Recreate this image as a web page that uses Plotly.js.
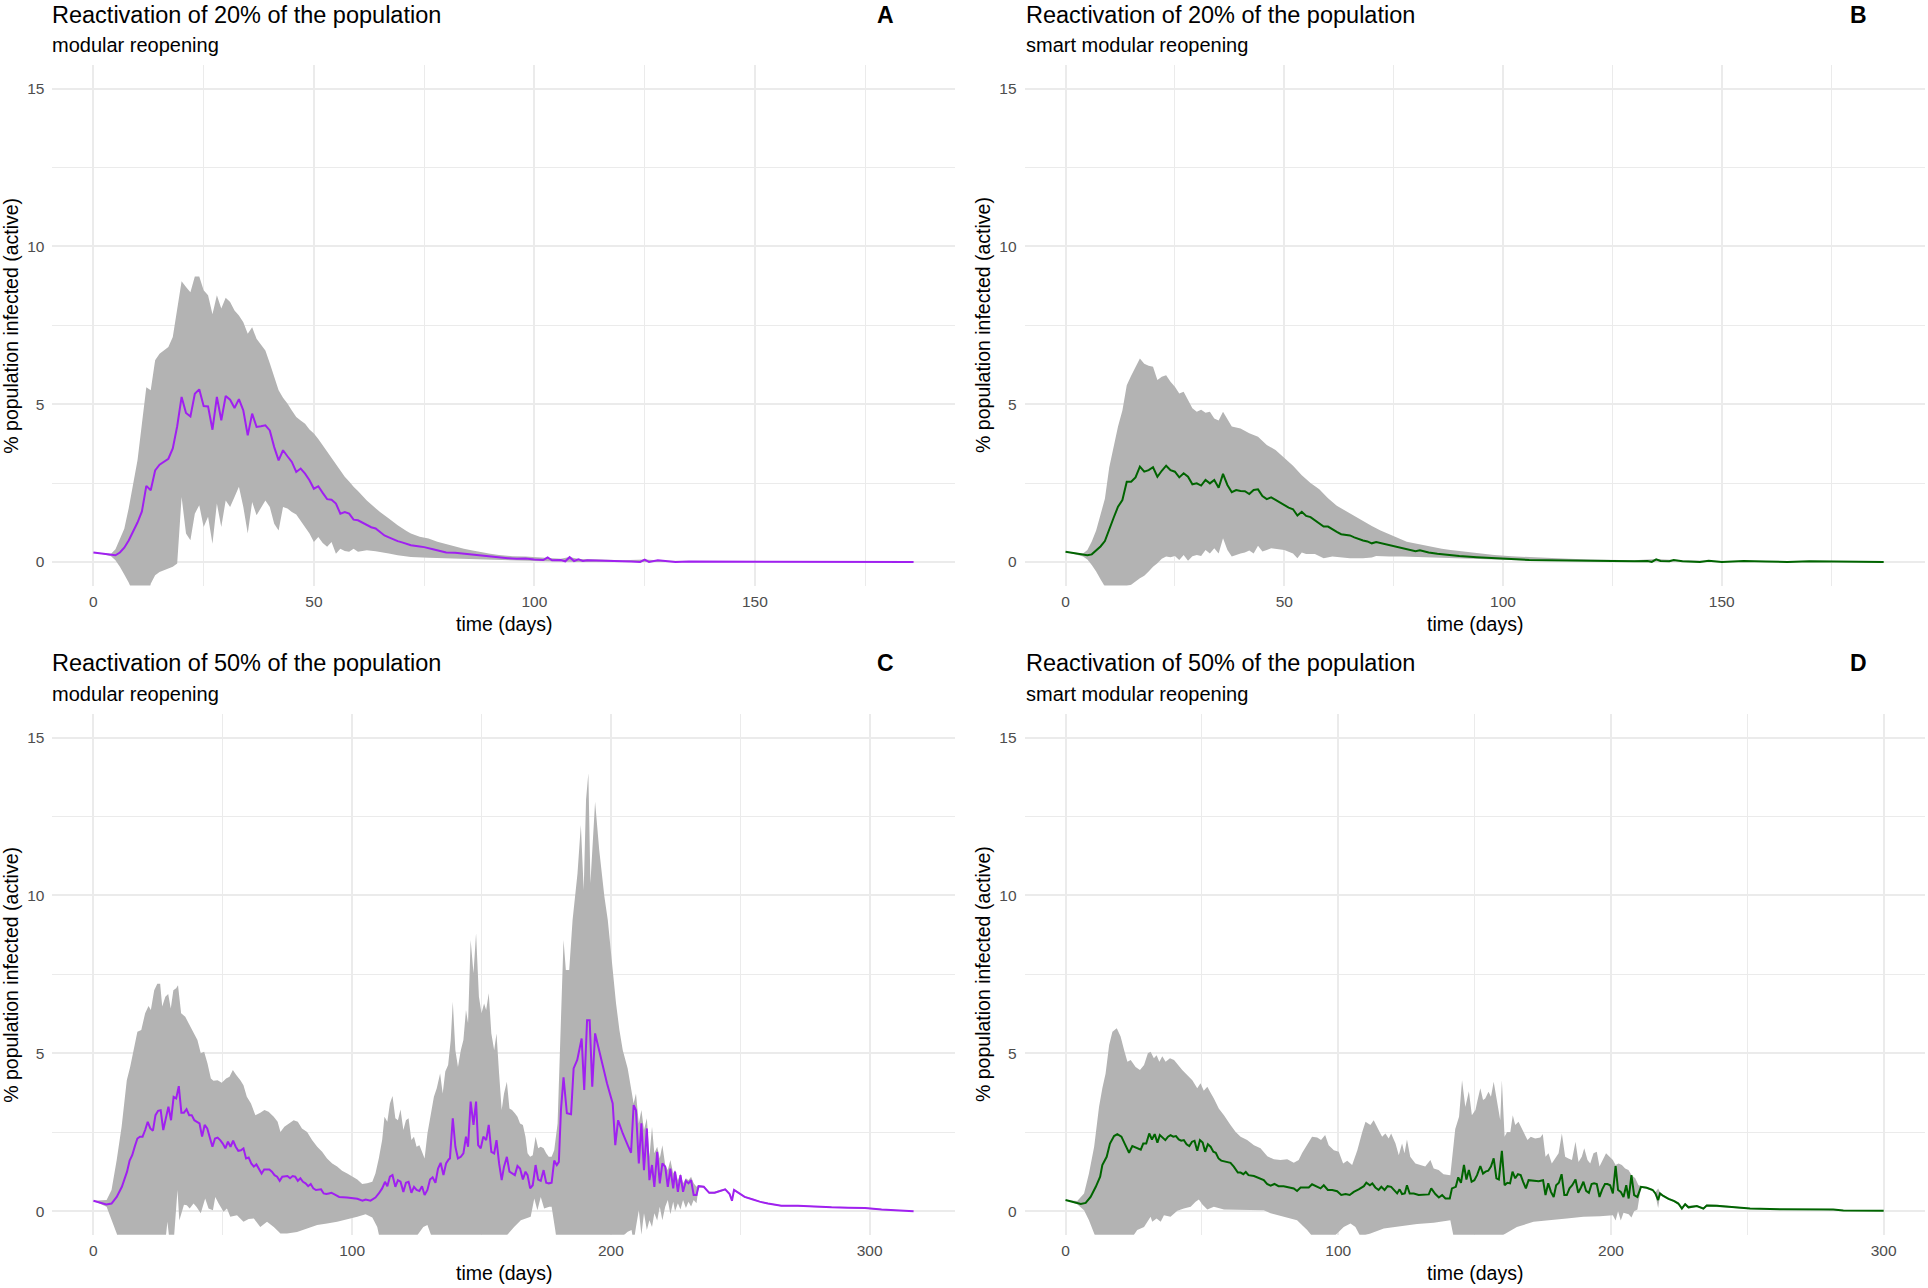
<!DOCTYPE html>
<html>
<head>
<meta charset="utf-8">
<script src="https://cdn.plot.ly/plotly-3.0.1.min.js"></script>
<style>html,body{margin:0;padding:0;background:#fff;}#chart{width:1928px;height:1288px;}</style>
</head>
<body>
<div id="chart"></div>
<script>
// ---------- Panel A: 20% modular reopening ----------
const aDay  = [0,2,4,5,6,7,8,9,10,11,12,13,14,15,16,17,18,19,20,21,22,23,24,25,26,27,28,29,30,31,32,33,34,35,36,37,38,39,40,41,42,43,44,45,46,47,48,49,50,51,52,53,54,55,56,57,58,59,60,61,62,63,64,65,66,67,68,69,70,72,74,75,77,79,80,82,84,86,88,90,92,94,96,98,100,102,103,104,106,107,108,109,110,111,112,115,118,120,122,124,125,126,128,130,132,135,140,145,150,160,170,186];
const aMean = [0.30,0.26,0.22,0.21,0.30,0.45,0.68,0.95,1.25,1.60,2.41,2.27,2.90,3.08,3.18,3.27,3.60,4.30,5.23,4.72,4.61,5.33,5.47,4.94,4.93,4.19,5.23,4.49,5.26,5.14,4.88,5.16,4.80,4.01,4.70,4.28,4.30,4.33,4.17,3.64,3.22,3.54,3.35,3.17,2.85,2.96,2.80,2.59,2.32,2.40,2.19,1.99,1.97,1.85,1.53,1.58,1.53,1.34,1.32,1.24,1.16,1.10,1.06,0.95,0.84,0.78,0.71,0.66,0.62,0.53,0.49,0.47,0.40,0.33,0.30,0.29,0.26,0.22,0.19,0.16,0.13,0.12,0.10,0.11,0.08,0.06,0.14,0.05,0.06,0.02,0.15,0.03,0.08,0.03,0.05,0.04,0.05,0.02,0.01,0.00,0.07,0.00,0.05,0.03,0.00,0.01,0.01,0.00,0.00,0.00,0.00,0.00];
const aUpDay = [0,2,4,5,6,7,8,9,10,11,12,13,14,15,16,17,18,19,20,21,22,23,24,25,26,27,28,29,30,31,32,33,34,35,36,37,38,39,40,41,42,43,44,45,46,47,48,49,50,51,52,53,54,55,56,57,58,59,60,62,64,65,67,69,71,72,74,76,78,80,82,84,86,88,90,92,95,98,100,103,106,108,110,115,120,125,130,140,150,186];
const aUp = [0.30,0.28,0.26,0.40,0.70,1.05,1.70,2.40,3.22,4.38,5.54,5.44,6.39,6.60,6.70,6.81,7.13,8.08,8.90,8.71,8.55,9.05,9.05,8.61,8.45,7.85,8.45,8.03,8.37,8.24,7.97,7.81,7.60,7.23,7.44,7.07,6.90,6.70,6.30,5.85,5.44,5.20,5.02,4.80,4.59,4.48,4.38,4.20,4.07,3.90,3.70,3.54,3.30,3.10,2.90,2.70,2.55,2.38,2.25,1.95,1.70,1.58,1.38,1.16,0.98,0.90,0.80,0.74,0.64,0.56,0.49,0.42,0.36,0.30,0.26,0.22,0.18,0.17,0.15,0.14,0.10,0.16,0.09,0.08,0.05,0.08,0.04,0.02,0.01,0.00];
const aLoDay = [0,2,4,5,6,7,8,9,10,11,12,13,14,15,16,17,18,19,20,21,22,23,24,25,26,27,28,29,30,31,32,33,34,35,36,37,38,39,40,41,42,43,44,45,46,47,48,49,50,51,52,53,54,55,56,57,58,59,60,62,64,65,67,69,72,76,80,87,95,100,110,120,186];
const aLo = [0.30,0.25,0.18,0.05,-0.15,-0.40,-0.65,-0.95,-1.30,-1.50,-1.40,-0.69,-0.42,-0.32,-0.25,-0.21,-0.15,-0.05,2.06,0.90,0.69,1.53,1.80,1.11,1.43,0.58,1.85,1.11,1.95,1.74,2.06,2.38,1.74,0.90,1.90,1.48,1.70,1.95,1.74,1.21,1.00,1.74,1.69,1.58,1.50,1.30,1.11,0.90,0.63,0.79,0.60,0.48,0.63,0.26,0.42,0.35,0.32,0.42,0.32,0.37,0.34,0.32,0.27,0.21,0.16,0.13,0.11,0.07,0.05,0.03,0.00,0.00,0.00];

// ---------- Panel B: 20% smart modular reopening ----------
const bDay = [0,2,4,5,6,7,8,9,10,11,12,13,14,15,16,17,18,19,20,21,22,23,24,25,26,27,28,29,30,31,32,33,34,35,36,37,38,39,40,41,42,43,44,45,46,47,48,49,50,51,52,53,54,55,56,57,58,59,60,61,62,63,64,65,66,67,68,69,70,71,72,73,74,75,76,78,80,81,83,85,87,90,94,98,102,106,110,115,120,125,130,133,134,135,136,138,139,141,145,147,150,155,160,165,170,175,180,187];
const bMean = [0.32,0.27,0.22,0.21,0.24,0.35,0.49,0.66,1.00,1.40,1.75,1.96,2.54,2.54,2.68,3.02,2.86,2.91,3.00,2.70,2.89,3.05,2.91,2.86,2.68,2.81,2.70,2.46,2.49,2.42,2.60,2.49,2.60,2.35,2.79,2.44,2.21,2.28,2.25,2.24,2.15,2.28,2.30,2.09,1.99,2.05,1.97,1.88,1.80,1.72,1.67,1.47,1.59,1.46,1.42,1.31,1.22,1.12,1.12,1.03,0.95,0.88,0.86,0.84,0.78,0.72,0.68,0.65,0.59,0.63,0.60,0.56,0.52,0.49,0.46,0.40,0.34,0.37,0.30,0.26,0.23,0.19,0.15,0.12,0.08,0.06,0.05,0.05,0.04,0.03,0.02,0.03,0.00,0.08,0.03,0.02,0.06,0.02,0.00,0.04,0.00,0.03,0.01,0.00,0.02,0.01,0.00,0.00];
const bUpDay = [0,2,4,5,6,7,8,9,10,11,12,13,14,15,16,17,18,19,20,21,22,23,24,25,26,27,28,29,30,31,32,33,34,35,36,37,38,40,42,44,46,48,50,52,54,56,58,60,62,64,66,68,70,72,74,76,78,80,82,84,86,88,90,94,98,102,106,110,115,120,125,130,135,140,150,160,170,187];
const bUp = [0.32,0.30,0.27,0.38,0.65,1.00,1.50,2.00,3.00,3.70,4.29,4.80,5.60,5.90,6.20,6.45,6.28,6.22,6.19,5.77,5.87,5.92,5.71,5.55,5.34,5.39,5.13,4.87,4.76,4.82,4.73,4.76,4.55,4.48,4.76,4.50,4.29,4.23,4.08,3.97,3.71,3.55,3.30,3.05,2.75,2.50,2.30,2.02,1.78,1.62,1.46,1.28,1.14,1.00,0.87,0.76,0.64,0.58,0.53,0.47,0.42,0.38,0.35,0.27,0.22,0.18,0.15,0.12,0.10,0.08,0.06,0.05,0.09,0.05,0.03,0.02,0.02,0.00];
const bLoDay = [0,2,4,5,6,7,8,9,10,11,12,13,14,15,16,17,18,19,20,21,22,23,24,25,26,27,28,29,30,31,32,33,34,35,36,37,38,39,40,41,42,43,44,45,46,47,48,50,52,53,54,55,57,59,61,63,65,68,70,71,74,77,80,84,88,92,96,100,106,110,120,130,187];
const bLo = [0.32,0.25,0.17,0.08,-0.10,-0.30,-0.55,-0.78,-1.00,-1.20,-1.15,-0.95,-0.76,-0.72,-0.62,-0.52,-0.44,-0.30,-0.15,-0.04,0.10,0.17,0.15,0.19,0.06,0.22,0.04,0.18,0.22,0.19,0.38,0.27,0.43,0.27,0.75,0.38,0.17,0.22,0.27,0.30,0.36,0.27,0.51,0.33,0.38,0.43,0.40,0.38,0.27,0.12,0.30,0.25,0.25,0.12,0.17,0.14,0.12,0.12,0.14,0.19,0.17,0.17,0.16,0.15,0.13,0.11,0.09,0.07,0.04,0.03,0.02,0.01,0.00];

// ---------- Panel C: 50% modular reopening ----------
const cDay = [0,2,5,7,9,11,13,14,15,16,17,18,19,20,21,22,23,24,25,26,27,28,29,30,31,32,33,34,35,36,37,38,39,40,41,42,43,44,45,46,47,48,49,50,51,52,53,54,55,56,57,58,59,60,61,62,63,64,65,66,67,68,69,70,71,72,73,74,75,76,77,78,79,80,81,82,83,84,85,86,87,88,89,90,91,92,93,94,95,98,100,102,104,105.2,107.1,109,110.3,111.6,112.7,113.6,114.6,115.6,116.7,117.7,118.7,119.8,120.8,121.8,122.9,123.9,124.9,126,127,128,129.1,130.1,131.1,132.2,133.2,134.2,135.3,136.3,137.3,137.8,138.9,139.9,140.9,142,143,144,144.8,145.8,146.9,147.9,148.7,149.7,150.7,151.8,152.8,153.8,154.9,155.8,156.8,157.8,158.7,159.8,160.8,161.8,162.9,163.9,164.9,166,167,167.8,168.8,169.8,170.9,171.9,172.9,174,175,176,177.1,178.1,179.1,179.9,180.7,181.7,183,184.6,185.6,187,188.7,189.7,190.8,191.8,192.8,193.9,196.2,198.5,200.7,201.7,202.8,204.6,206.5,207.8,208.8,209.7,210.8,211.8,212.8,213.9,214.9,215.9,216.8,217.9,218.9,219.9,221,222,223,224.1,224.8,225.9,226.9,227.9,229,230,231,232,233.1,233.9,235.9,238,240.1,242.1,244.2,245.9,246.8,247.6,249.4,251.7,254.9,257.5,260.7,265.9,272.3,278.8,285.3,291.7,298.2,304.6,312.4,317];
const cMean = [0.33,0.28,0.21,0.24,0.45,0.77,1.25,1.60,1.77,2.05,2.30,2.36,2.36,2.57,2.83,2.62,2.55,3.04,3.18,3.20,2.57,2.94,3.31,2.88,3.62,3.57,3.96,3.12,3.12,3.23,3.04,3.04,2.88,2.83,2.78,2.36,2.73,2.62,2.36,2.04,2.30,2.33,2.25,2.14,1.99,2.20,2.04,2.23,2.04,1.91,1.93,1.99,1.67,1.70,1.51,1.41,1.48,1.32,1.19,1.32,1.32,1.32,1.25,1.14,1.09,0.96,1.09,1.09,1.11,1.04,1.11,1.09,0.96,1.04,0.93,0.88,0.79,0.86,0.72,0.67,0.69,0.69,0.56,0.54,0.56,0.58,0.54,0.50,0.45,0.43,0.40,0.39,0.33,0.37,0.33,0.43,0.56,0.72,0.93,0.79,1.09,1.14,0.77,0.98,0.93,0.61,0.90,0.93,0.58,0.77,0.67,0.64,0.79,0.51,0.67,1.00,1.07,0.90,1.35,1.53,1.14,1.51,1.64,1.67,2.94,2.04,1.67,1.72,1.83,2.36,2.04,3.47,2.73,3.47,2.09,1.99,2.36,2.25,2.73,1.88,1.83,2.25,1.51,0.98,1.41,1.72,1.25,1.19,1.14,1.43,1.35,1.00,1.25,1.14,0.72,0.82,1.46,1.00,0.96,1.30,0.90,0.88,0.90,1.60,1.46,1.56,3.20,4.24,3.10,3.07,4.52,4.79,5.47,3.84,6.05,6.05,3.94,5.63,4.79,4.05,3.41,2.09,2.88,2.46,2.09,1.85,3.36,3.20,1.51,2.78,1.30,2.62,0.98,1.46,0.77,1.88,0.88,1.51,1.41,0.77,1.35,0.72,1.25,0.61,1.14,0.61,0.96,0.88,0.98,0.51,0.51,0.79,0.77,0.58,0.58,0.64,0.69,0.54,0.33,0.67,0.58,0.45,0.37,0.30,0.24,0.17,0.17,0.14,0.12,0.11,0.10,0.05,0.03,0.00];
const cUpDay = [0,5.1,7,9,10.9,12.9,14.2,15.5,17,18.5,20,21.3,22.2,23.5,24.7,25.8,26.6,27.8,28.9,29.9,30.9,32,32.7,33.9,35.5,36.8,38.7,40.2,41.5,42.8,44.1,45.4,46.4,48,49.6,51.3,52.6,53.9,55.2,56.8,58,59.3,60.9,62.6,64.5,66.1,67.7,69.7,71.2,72.3,73.8,75.5,77.4,79,80.6,82.6,84.5,86.5,88.4,90.3,92.3,94.2,96.1,98.1,100,102,103.9,105.8,107.8,109,110.3,111.6,112.5,113.6,114.6,115.6,116.7,117.7,118.7,119.8,120.8,121.8,122.9,123.9,124.9,126,127,128,129.1,130.3,131.6,132.7,134,135,136,137.1,138.1,138.9,139.9,140.9,142,143,144,144.8,145.8,146.9,147.9,149,150,151,151.8,152.8,153.8,154.9,155.8,156.8,157.8,158.7,159.8,160.8,161.8,162.9,163.9,164.9,166,167,167.8,168.8,169.8,170.9,171.9,172.9,174,175,176,177.1,178.1,179.4,180.7,181.7,182.6,183.9,185.2,186.2,187.1,188.4,189.5,190.4,191.3,192.1,193,193.9,195.5,197.5,198.8,200.7,202,203.3,204.6,206.5,207.8,208.8,209.7,210.8,211.8,212.8,213.9,214.9,215.9,216.8,217.9,218.9,219.9,221,222,223,224.1,224.8,225.9,226.9,227.9,229,230,231,232,233.1,233.9,236,238,240,242,244.2,246,246.8,247.6,249.4,251.7,255,257.5,261,266,272,279,285,292,298,305,312,317];
const cUp = [0.33,0.35,0.67,1.62,2.67,4.15,4.57,5.10,5.68,5.74,6.27,6.50,6.37,7.00,7.20,7.20,6.48,6.79,6.88,6.42,7.00,7.06,7.16,6.27,6.16,5.95,5.63,5.42,5.00,5.05,4.68,4.20,4.13,4.15,4.07,4.20,4.26,4.47,4.31,4.15,3.99,3.62,3.41,3.04,3.12,3.20,3.15,2.99,2.83,2.51,2.67,2.78,2.88,2.83,2.62,2.51,2.25,2.04,1.88,1.67,1.51,1.41,1.28,1.19,1.11,1.00,0.86,0.88,0.93,1.19,1.67,2.25,2.99,2.83,3.41,3.65,2.94,2.88,3.22,2.57,2.88,2.94,2.25,2.36,2.04,2.09,1.88,1.67,2.46,3.04,3.62,3.89,4.36,3.73,4.42,4.63,5.42,6.63,5.10,4.57,5.10,5.42,6.37,5.95,8.59,7.54,8.80,6.79,6.27,6.58,6.37,6.90,5.63,5.10,5.63,4.36,3.20,3.73,4.10,3.25,3.20,3.10,2.99,2.78,2.73,2.36,1.83,1.72,1.77,2.36,1.99,2.04,1.99,1.83,1.72,1.72,1.93,2.78,6.27,8.59,7.64,7.64,9.22,9.96,10.70,12.23,10.17,13.03,13.87,10.39,11.76,12.97,11.44,9.96,9.22,7.64,6.58,5.74,5.10,4.52,3.94,3.41,3.73,2.78,3.20,2.57,2.94,1.72,2.67,1.83,2.04,1.67,2.09,1.46,1.30,1.62,1.19,1.30,0.98,1.19,0.88,1.04,0.98,1.09,0.88,0.77,0.82,0.80,0.61,0.61,0.67,0.72,0.57,0.36,0.70,0.61,0.48,0.39,0.32,0.26,0.19,0.19,0.16,0.14,0.13,0.12,0.07,0.04,0.01];
const cLoDay = [0,5.1,7,9,10,12,15,20,25,27.5,28.6,29.5,31,32.5,33.2,34.1,35,36.1,37.2,38.7,39.8,41.5,43.2,44.5,46.2,47.1,48.4,50.3,51.6,52.9,55.5,58,60,62,64.5,67.1,69.7,72.3,74.8,78.7,82.6,86.5,90.3,94.2,98.1,102,105.2,107.8,109.7,111,115,120,124,127.5,129.1,130.3,132,140,150,158,160,162.6,165.2,169,170.4,171.6,172.9,174.2,176.2,177.1,178.5,180,185,190,195,200,204.5,206.5,208,208.8,209.7,210.8,211.8,212.8,213.9,214.9,215.9,216.8,217.9,218.9,219.9,221,222,223,224.1,224.8,225.9,226.9,227.9,229,230,231,232,233.1,233.9,236,238,240,242,244.2,246,246.8,247.6,249.4,251.7,255,257.5,261,266,272,279,285,292,298,305,312,317];
const cLo = [0.33,0.14,-0.29,-0.71,-1.00,-1.40,-1.80,-2.00,-1.80,-1.20,-0.34,-1.00,-1.00,0.67,-0.30,-0.07,0.20,0.19,0.08,0.24,0.14,-0.07,0.40,0.08,0.03,0.45,0.24,-0.02,0.08,-0.18,-0.13,-0.34,-0.25,-0.23,-0.50,-0.34,-0.50,-0.71,-0.71,-0.66,-0.55,-0.44,-0.39,-0.34,-0.26,-0.18,-0.10,-0.20,-0.50,-1.00,-1.40,-1.30,-0.90,-0.50,-0.44,-0.71,-1.10,-1.60,-1.80,-1.10,-0.75,-0.50,-0.29,-0.18,0.40,0.03,0.45,0.08,0.14,0.14,-0.60,-1.50,-4.00,-4.00,-3.00,-2.00,-0.80,-0.65,-0.60,-1.00,-0.50,0.03,-0.75,-0.07,-0.60,-0.29,-0.50,-0.07,-0.30,0.14,-0.29,0.14,0.35,-0.10,0.30,0.00,0.25,0.05,0.35,0.10,0.30,0.15,0.35,0.25,0.76,0.74,0.55,0.55,0.61,0.66,0.51,0.30,0.64,0.55,0.42,0.35,0.28,0.22,0.15,0.15,0.12,0.10,0.09,0.08,0.03,0.02,0.00];

// ---------- Panel D: 50% smart modular reopening ----------
const dDay = [0,3.1,5.6,7.4,9.2,11.1,12.7,13.5,15.1,16.3,17.8,19,20.5,21.7,23.3,24.5,26.1,27.6,28.5,29.6,30.7,31.7,32.7,33.7,34.6,35.6,36.6,37.6,38.5,39.5,40.5,41.5,42.4,43.4,44.4,45.4,46.4,47.3,48.3,49.3,50.3,51.2,52.2,53.2,54.2,55.1,56.1,57.1,58.7,60.5,61.7,63.2,64.2,65.2,66.1,67.1,69.1,71,72.7,73.9,75.2,76.6,78.1,80,81.9,83.7,84.9,86.2,88,89.2,90.4,92.3,93.5,94.7,96.2,97.8,99.6,101.1,102.7,104.2,105.7,107.5,109.4,110.3,111.6,112.5,113.6,114.8,115.8,117,118.1,119.4,120.3,121.6,122.5,123.4,124.4,125.2,126.2,127.7,129.5,131.3,133.2,134.1,135.6,136.9,138.1,139.3,140.9,141.7,143.1,144,145,146.1,147,147.9,148.9,149.9,150.9,152.1,153.1,154,155,156,157,158,158.9,160,161,162,163,163.9,164.9,165.9,166.9,167.8,168.8,169.8,171.6,173.5,175.1,176,177,178,179,179.9,180.9,181.9,182.9,183.8,184.8,185.8,187,188,189,189.9,190.9,191.9,192.9,193.8,194.8,195.8,196.8,197.8,198.7,199.7,200.7,201.7,202.6,203.6,204.6,205.6,206.5,207.5,208.5,209.7,211,213.1,215.3,216.3,217.3,218,219.2,221.1,223.2,224.7,226,227.2,228.4,231.5,233.9,235.1,238.8,244.9,251,263.2,275.4,281.5,285.2,293.7,300];
const dMean = [0.35,0.29,0.23,0.26,0.45,0.77,1.09,1.46,1.72,2.14,2.38,2.44,2.36,2.14,1.85,2.06,1.99,1.95,2.14,2.14,2.46,2.27,2.44,2.17,2.41,2.33,2.25,2.36,2.41,2.36,2.38,2.27,2.23,2.25,2.12,2.06,2.20,2.23,1.91,2.25,2.17,1.88,2.12,2.04,1.88,1.85,1.67,1.60,1.56,1.53,1.41,1.22,1.22,1.17,1.24,1.14,1.11,1.04,0.98,0.86,0.81,0.86,0.79,0.79,0.75,0.72,0.64,0.75,0.75,0.75,0.85,0.77,0.72,0.82,0.67,0.67,0.63,0.51,0.54,0.51,0.61,0.69,0.79,0.90,0.82,0.88,0.75,0.67,0.77,0.67,0.79,0.77,0.69,0.56,0.69,0.54,0.56,0.82,0.56,0.56,0.51,0.53,0.53,0.72,0.54,0.43,0.51,0.40,0.40,0.72,0.77,1.07,0.90,1.46,1.00,1.30,0.93,0.98,1.14,1.43,1.19,1.25,1.28,1.41,1.67,1.04,1.00,1.91,0.82,0.90,0.88,1.25,1.04,1.17,1.14,0.93,0.72,0.98,0.96,0.95,0.98,0.51,0.88,0.61,0.45,0.82,0.90,1.17,0.51,0.51,0.72,0.82,1.00,0.58,0.75,0.93,0.64,0.58,0.86,0.88,0.86,0.45,0.69,0.86,0.86,0.82,0.56,1.43,0.67,0.61,0.45,0.82,0.40,1.14,0.51,0.45,0.77,0.74,0.67,0.56,0.35,0.56,0.48,0.39,0.32,0.24,0.08,0.22,0.12,0.16,0.08,0.18,0.17,0.12,0.08,0.06,0.05,0.05,0.02,0.02,0.01];
const dUpDay = [0,4.3,6.8,8.6,10.5,12.3,13.5,14.7,16,17.2,18.8,20.2,21.5,22.7,23.9,25.7,27.3,28.8,30.2,31.2,32.4,33.4,34.4,35.5,36.7,38.3,39.8,41.2,42.8,44.6,46.5,48.3,49.5,50.7,52,53.2,54.4,56.2,58.1,60.5,62.4,64.2,66.6,69.1,71.5,74,76.4,78.8,81.3,83.7,85.5,86.8,88.6,90.4,92.3,93.7,95.2,96.5,98.4,100.2,101.8,103.3,105.1,107,108.8,110,111.8,113,114.8,116.1,117.3,118.5,119.4,121,122.2,123.4,124.3,125.2,126.4,128.3,130.1,131.9,133.8,135,136.8,138.6,141.1,142.9,144.3,145.4,146.6,147.9,149,150.3,151.1,152.1,153.1,153.9,155.1,156,157,158.2,159.4,160,161,161.9,163.1,164,164.9,166.1,167,168.2,169.4,170.6,172.2,174.1,175,176,177.1,178.3,179.6,180.8,182,183.2,184.4,185.7,187,188.1,189.3,190.2,191.4,192.4,193.6,194.8,195.8,197,198.2,199.5,200.7,201.7,202.8,204,205.2,206.4,207.6,208.9,210.1,211,213.1,215.3,216.3,217.3,218,219.2,221.1,223.2,224.7,226,227.2,228.4,231.5,233.9,235.1,238.8,244.9,251,263.2,275.4,285.2,300];
const dUp = [0.35,0.32,0.56,1.19,2.04,3.31,3.89,4.36,5.26,5.68,5.79,5.53,5.10,4.73,4.79,4.57,4.47,4.63,5.00,5.05,4.84,4.94,4.73,4.91,4.73,4.84,4.79,4.63,4.47,4.31,4.15,3.89,4.05,3.81,3.94,3.75,3.57,3.25,3.04,2.73,2.51,2.36,2.25,2.09,1.99,1.74,1.64,1.62,1.64,1.53,1.62,1.85,2.09,2.36,2.33,2.25,2.41,2.09,1.93,1.88,1.51,1.60,1.46,1.93,2.51,2.83,2.73,2.88,2.57,2.36,2.46,2.30,2.46,2.14,1.77,2.14,1.83,2.27,1.72,1.51,1.46,1.41,1.62,1.35,1.30,1.17,1.14,2.60,2.99,4.15,3.30,3.80,3.04,3.20,3.52,3.89,3.52,3.57,3.78,3.62,4.10,3.52,2.88,4.15,2.36,2.51,2.51,3.04,2.73,2.83,2.67,2.46,2.25,2.36,2.30,2.33,2.44,1.72,1.83,1.51,1.67,1.83,2.46,1.72,1.67,1.62,2.20,1.56,1.72,1.99,1.62,1.51,1.83,1.88,1.41,1.62,1.83,1.72,1.62,1.46,1.51,1.46,1.35,1.30,1.14,1.04,0.82,0.80,0.77,0.70,0.60,0.72,0.60,0.51,0.42,0.35,0.28,0.14,0.26,0.17,0.19,0.12,0.21,0.20,0.14,0.10,0.07,0.06,0.03,0.01];
const dLoDay = [0,4.3,6.8,8.6,10.5,12,16,20,23.9,26.3,28.8,31.2,31.8,33.4,34.9,36.1,38.5,41,43.4,45.9,47.7,48.9,50.1,52,54.4,58.1,61.7,65.4,69.1,72.7,75.2,80,84.9,88.6,91,95,99.6,102,104.5,106.3,108.1,111.8,116.7,122.8,128.9,135,141.1,142.5,146,152,158,160.6,165.5,171.6,177.7,183.8,189.9,196,200.7,201.7,202.6,203.6,204.6,206.5,207.5,208.5,209.7,211,213.1,215.3,216.3,217.3,218,219.2,221.1,223.2,224.7,226,227.2,228.4,231.5,233.9,235.1,238.8,244.9,251,263.2,275.4,285.2,300];
const dLo = [0.35,0.22,0.03,-0.29,-0.71,-1.00,-1.60,-1.40,-0.90,-0.60,-0.50,-0.18,-0.34,-0.23,-0.34,-0.13,-0.18,0.01,0.08,0.14,0.30,0.37,0.22,0.05,0.14,0.05,0.05,0.05,0.03,0.03,-0.07,-0.18,-0.29,-0.60,-0.85,-1.10,-0.71,-0.50,-0.39,-0.50,-0.80,-0.71,-0.55,-0.48,-0.41,-0.37,-0.29,-0.90,-1.50,-1.60,-1.20,-0.75,-0.50,-0.34,-0.29,-0.23,-0.18,-0.16,-0.13,-0.30,0.00,-0.30,-0.05,-0.10,-0.20,0.00,0.05,0.74,0.71,0.64,0.50,0.10,0.50,0.45,0.36,0.29,0.20,0.04,0.18,0.08,0.13,0.05,0.15,0.14,0.10,0.06,0.05,0.04,0.01,0.01];

// ---------- Text ----------
const titles = ["Reactivation of 20% of the population","Reactivation of 20% of the population","Reactivation of 50% of the population","Reactivation of 50% of the population"];
const subtitles = ["modular reopening","smart modular reopening","modular reopening","smart modular reopening"];
const letters = ["A","B","C","D"];
const xTitle = "time (days)";
const yTitle = "% population infected (active)";

// ---------- Build ----------
const W = 1928, H = 1288;
const FONT = "Liberation Sans, Arial, Helvetica, sans-serif";
const PURPLE = "#A020F0", GREEN = "#006400", BAND = "#B3B3B3", GRID = "#EBEBEB";

function rev(a){ return a.slice().reverse(); }
function band(xu, yu, xl, yl, ax){
  return {type:'scatter', mode:'lines', x: xu.concat(rev(xl)), y: yu.concat(rev(yl)),
    fill:'toself', fillcolor: BAND, line:{width:0, color:BAND}, hoverinfo:'skip',
    xaxis:'x'+ax, yaxis:'y'+ax, showlegend:false};
}
function meanLine(x, y, color, ax){
  return {type:'scatter', mode:'lines', x:x, y:y, line:{color:color, width:2},
    xaxis:'x'+ax, yaxis:'y'+ax, showlegend:false};
}

const traces = [
  band(aUpDay, aUp, aLoDay, aLo, ''), meanLine(aDay, aMean, PURPLE, ''),
  band(bUpDay, bUp, bLoDay, bLo, '2'), meanLine(bDay, bMean, GREEN, '2'),
  band(cUpDay, cUp, cLoDay, cLo, '3'), meanLine(cDay, cMean, PURPLE, '3'),
  band(dUpDay, dUp, dLoDay, dLo, '4'), meanLine(dDay, dMean, GREEN, '4')
];

// panel geometry in pixels
const colX = [[52.4, 954.6],[1024.6, 1924.6]];
const rowY = [[65, 585.6],[714, 1234.8]];
const xRanges = [[-9.3,195.3],[-9.35,196.35],[-15.85,332.85],[-15,315]];
const xDt = [50,50,100,100];

function px(x){ return x/W; }
function py(y){ return 1 - y/H; }

const layout = {
  width: W, height: H, margin:{l:0,r:0,t:0,b:0}, paper_bgcolor:'#fff', plot_bgcolor:'#fff',
  font:{family:FONT, color:'#000'}, showlegend:false, annotations:[]
};
for (let i=0;i<4;i++){
  const c = i%2, r = Math.floor(i/2);
  const k = i===0 ? '' : String(i+1);
  layout['xaxis'+k] = {
    domain:[px(colX[c][0]), px(colX[c][1])], range:xRanges[i], anchor:'y'+k,
    tick0:0, dtick:xDt[i], showgrid:true, gridcolor:GRID, gridwidth:2, zeroline:false, showline:false,
    ticks:'', ticklabelstandoff:5, tickfont:{size:15.5, color:'#4D4D4D', family:FONT},
    minor:{tick0:0, dtick:xDt[i]/2, showgrid:true, gridcolor:GRID, gridwidth:1, ticks:''},
    fixedrange:true
  };
  layout['yaxis'+k] = {
    domain:[py(rowY[r][1]), py(rowY[r][0])], range:[-0.75,15.75], anchor:'x'+k,
    tick0:0, dtick:5, showgrid:true, gridcolor:GRID, gridwidth:2, zeroline:false, showline:false,
    ticks:'', ticklabelstandoff:7, tickfont:{size:15.5, color:'#4D4D4D', family:FONT},
    minor:{tick0:0, dtick:2.5, showgrid:true, gridcolor:GRID, gridwidth:1, ticks:''},
    fixedrange:true
  };
  const left = colX[c][0], right = colX[c][1];
  const top = rowY[r][0], bot = rowY[r][1];
  const titleY = r===0 ? 14.5 : 663;
  const subY = r===0 ? 44.5 : 693.5;
  const titleX = c===0 ? 49.5 : 1023.5;
  const letterX = c===0 ? 885 : 1858;
  layout.annotations.push(
    {text:titles[i], xref:'paper', yref:'paper', x:px(titleX), y:py(titleY), xanchor:'left', yanchor:'middle', showarrow:false, font:{size:23.5, color:'#000', family:FONT}},
    {text:subtitles[i], xref:'paper', yref:'paper', x:px(titleX), y:py(subY), xanchor:'left', yanchor:'middle', showarrow:false, font:{size:20, color:'#000', family:FONT}},
    {text:'<b>'+letters[i]+'</b>', xref:'paper', yref:'paper', x:px(letterX), y:py(titleY), xanchor:'center', yanchor:'middle', showarrow:false, font:{size:23, color:'#000', family:FONT}},
    {text:xTitle, xref:'paper', yref:'paper', x:px((left+right)/2), y:py(bot+38), xanchor:'center', yanchor:'middle', showarrow:false, font:{size:19.5, color:'#000', family:FONT}},
    {text:yTitle, xref:'paper', yref:'paper', x:px(left-41), y:py((top+bot)/2), xanchor:'center', yanchor:'middle', textangle:-90, showarrow:false, font:{size:19.5, color:'#000', family:FONT}}
  );
}

Plotly.newPlot('chart', traces, layout, {displayModeBar:false, staticPlot:true});
</script>
</body>
</html>
